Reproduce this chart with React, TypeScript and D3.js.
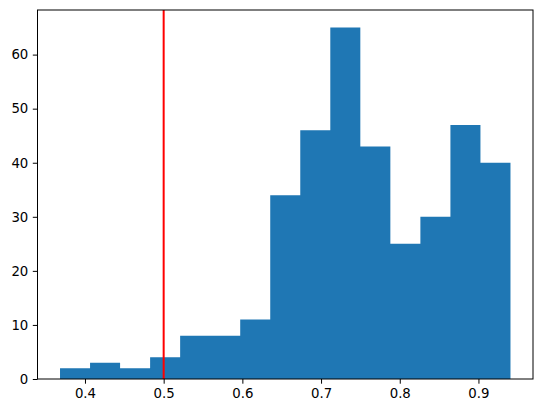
import React, { useEffect, useRef } from "react";
import * as d3 from "d3";

// histogram: 15 equal bins between binStart and binEnd
const binStart = 0.3683;
const binEnd = 0.9407;
const counts = [2, 3, 2, 4, 8, 8, 11, 34, 46, 65, 43, 25, 30, 47, 40];
const xTicks = [0.4, 0.5, 0.6, 0.7, 0.8, 0.9];
const yTicks = [0, 10, 20, 30, 40, 50, 60];
const markerX = 0.5;

const width = 542;
const height = 413;
const margin = { top: 10, right: 9, bottom: 34, left: 37.5 };

export default function App() {
  const svgRef = useRef<SVGSVGElement>(null);

  useEffect(() => {
    const svg = d3.select(svgRef.current);
    svg.selectAll("*").remove();

    const binWidth = (binEnd - binStart) / counts.length;
    const bins = counts.map((c, i) => ({
      x0: binStart + i * binWidth,
      x1: binStart + (i + 1) * binWidth,
      count: c,
    }));

    // matplotlib's 5% margins on x, 5% headroom on y
    const span = binEnd - binStart;
    const x = d3
      .scaleLinear()
      .domain([binStart - span * 0.05, binEnd + span * 0.05])
      .range([margin.left, width - margin.right]);
    const yMax = d3.max(counts)! * 1.05;
    const y = d3
      .scaleLinear()
      .domain([0, yMax])
      .range([height - margin.bottom, margin.top]);

    // one outline path for all bars, so no seams show between neighbours
    const p = d3.path();
    p.moveTo(x(bins[0].x0), y(0));
    bins.forEach((b) => {
      p.lineTo(x(b.x0), y(b.count));
      p.lineTo(x(b.x1), y(b.count));
    });
    p.lineTo(x(bins[bins.length - 1].x1), y(0));
    p.closePath();
    svg.append("path").attr("d", p.toString()).attr("fill", "#1f77b4");

    svg
      .append("line")
      .attr("x1", x(markerX))
      .attr("x2", x(markerX))
      .attr("y1", y(yMax))
      .attr("y2", y(0))
      .attr("stroke", "red")
      .attr("stroke-width", 2);

    const font = "DejaVu Sans, sans-serif";

    const xAxis = svg
      .append("g")
      .attr("transform", `translate(0,${height - margin.bottom})`)
      .call(
        d3
          .axisBottom(x)
          .tickValues(xTicks)
          .tickFormat(d3.format(".1f"))
          .tickSize(4.7)
          .tickPadding(4.5)
      );
    const yAxis = svg
      .append("g")
      .attr("transform", `translate(${margin.left},0)`)
      .call(
        d3
          .axisLeft(y)
          .tickValues(yTicks)
          .tickFormat(d3.format("d"))
          .tickSize(4.7)
          .tickPadding(4.5)
      );

    [xAxis, yAxis].forEach((a) => {
      a.select(".domain").remove();
      a.selectAll(".tick line").attr("stroke", "#000").attr("stroke-width", 1);
      a.selectAll(".tick text")
        .attr("fill", "#000")
        .style("font-family", font)
        .style("font-size", "13.3px");
    });

    svg
      .append("rect")
      .attr("x", margin.left)
      .attr("y", margin.top)
      .attr("width", width - margin.left - margin.right)
      .attr("height", height - margin.top - margin.bottom)
      .attr("fill", "none")
      .attr("stroke", "#000")
      .attr("stroke-width", 1);
  }, []);

  return (
    <svg
      ref={svgRef}
      width={width}
      height={height}
      style={{ position: "absolute", left: 0, top: 0, background: "#fff" }}
    />
  );
}
